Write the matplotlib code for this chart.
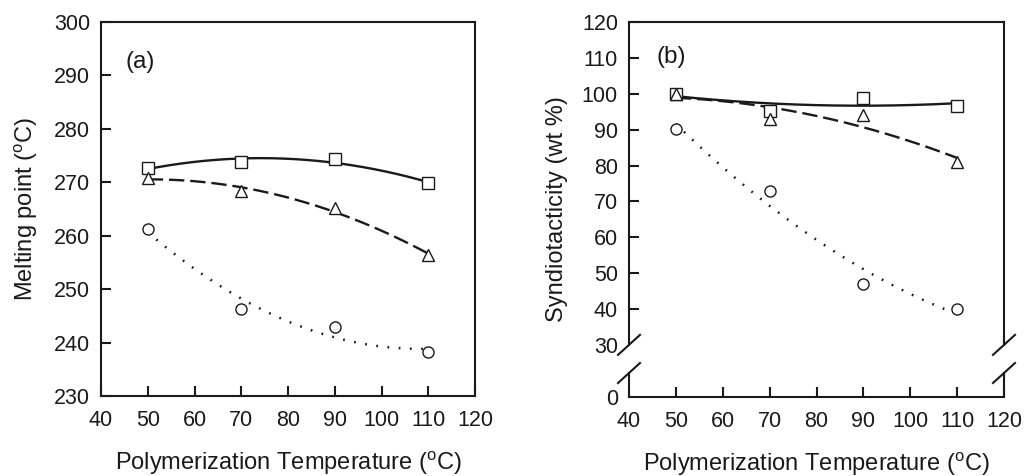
import numpy as np
import matplotlib
matplotlib.use('Agg')
import matplotlib.pyplot as plt
from matplotlib.lines import Line2D

plt.rcParams['font.family'] = ['Liberation Sans', 'DejaVu Sans']
plt.rcParams['mathtext.fontset'] = 'custom'
plt.rcParams['mathtext.rm'] = 'Liberation Sans'
plt.rcParams['font.size'] = 16

# === Data ===
temp = [50, 70, 90, 110]

# (a) melting point, degC
mp_square = [272.7, 273.8, 274.3, 269.8]
mp_triangle = [270.8, 268.3, 265.2, 256.4]
mp_circle = [261.3, 246.3, 242.9, 238.2]

# (b) syndiotacticity, wt %
st_square = [100.0, 95.3, 98.7, 96.7]
st_triangle = [100.0, 92.9, 94.0, 81.0]
st_circle = [90.2, 72.9, 47.0, 40.0]

x_ticks = [40, 50, 60, 70, 80, 90, 100, 110, 120]
a_yticks = [230, 240, 250, 260, 270, 280, 290, 300]
b_yticks = [0, 30, 40, 50, 60, 70, 80, 90, 100, 110, 120]

ink = '#1a1a1a'
xlabel = 'Polymerization Temperature ($^{\\mathrm{o}}$C)'
tick_fs = 15.5
label_fs = 17
panel_fs = 17.5

# marker, dash pattern, line width
series_style = [
    ('s', None, 1.7),
    ('^', (6.5, 2.5), 1.7),
    ('o', (0.7, 3.8), 1.8),
]


def draw_series(ax, xs, ys, marker, dashes, lw):
    # quadratic trend line through the points
    coef = np.polyfit(xs, ys, 2)
    xf = np.linspace(min(xs), max(xs), 200)
    kw = dict(color=ink, lw=lw, zorder=2)
    if dashes is not None:
        kw['dashes'] = dashes
    ax.plot(xf, np.polyval(coef, xf), **kw)
    ms = 9 if marker == '^' else 8
    ax.plot(xs, ys, ls='none', marker=marker, ms=ms, mfc='white',
            mec=ink, mew=1.0, zorder=3)


def style_axes(ax):
    ax.set_xlim(40, 120)
    ax.set_xticks(x_ticks)
    ax.tick_params(direction='in', length=7, width=1.5, colors=ink,
                   labelsize=tick_fs, top=False, right=False)
    ax.tick_params(axis='x', pad=10)
    ax.tick_params(axis='y', pad=8)
    for sp in ax.spines.values():
        sp.set_linewidth(1.5)
        sp.set_color(ink)
    ax.set_xlabel(xlabel, labelpad=13, color=ink, fontsize=label_fs)


fig = plt.figure(figsize=(10.24, 4.76), dpi=100)

# === Panel (a) ===
ax1 = fig.add_axes([101 / 1024, 80 / 476, 374 / 1024, 374 / 476])
for ys, (m, d, w) in zip([mp_square, mp_triangle, mp_circle], series_style):
    draw_series(ax1, temp, ys, m, d, w)
style_axes(ax1)
ax1.set_ylim(230, 300)
ax1.set_yticks(a_yticks)
ax1.set_ylabel('Melting point ($^{\\mathrm{o}}$C)', labelpad=10, color=ink,
               fontsize=label_fs)
ax1.text(0.065, 0.893, '(a)', transform=ax1.transAxes, va='center',
         ha='left', color=ink, fontsize=panel_fs)

# === Panel (b), broken y axis between 0 and 30 ===
k = 14.5 / 30


def fwd(y):
    y = np.asarray(y, dtype=float)
    return np.where(y >= 30, y, 30 - (30 - y) * k)


def inv(z):
    z = np.asarray(z, dtype=float)
    return np.where(z >= 30, z, 30 - (30 - z) / k)


ax2 = fig.add_axes([629 / 1024, 79 / 476, 375 / 1024, 375 / 476])
ax2.set_yscale('function', functions=(fwd, inv))
for ys, (m, d, w) in zip([st_square, st_triangle, st_circle], series_style):
    draw_series(ax2, temp, ys, m, d, w)
style_axes(ax2)
ax2.set_ylim(0, 120)
ax2.set_yticks(b_yticks)
ax2.set_yticklabels([str(v) for v in b_yticks])
ax2.yaxis.set_minor_locator(matplotlib.ticker.NullLocator())
for t in ax2.yaxis.get_major_ticks()[:2]:
    t.tick1line.set_visible(False)
ax2.set_ylabel('Syndiotacticity (wt %)', labelpad=10, color=ink,
               fontsize=label_fs)
ax2.text(0.073, 0.907, '(b)', transform=ax2.transAxes, va='center',
         ha='left', color=ink, fontsize=panel_fs)

# replace left/right spines with broken ones
ax2.spines['left'].set_visible(False)
ax2.spines['right'].set_visible(False)
y_hi, y_lo = 0.139, 0.064
dx, dy = 11 / 375, 10 / 375
for xs in (0, 1):
    for seg in ((y_hi, 1), (0, y_lo)):
        ax2.add_line(Line2D([xs, xs], seg, transform=ax2.transAxes,
                            color=ink, lw=1.5, clip_on=False,
                            solid_capstyle='projecting'))
    for yc in (y_hi, y_lo):
        ax2.add_line(Line2D([xs - dx, xs + dx], [yc - dy, yc + dy],
                            transform=ax2.transAxes, color=ink, lw=1.5,
                            clip_on=False))

fig.savefig('out.png', dpi=100)
